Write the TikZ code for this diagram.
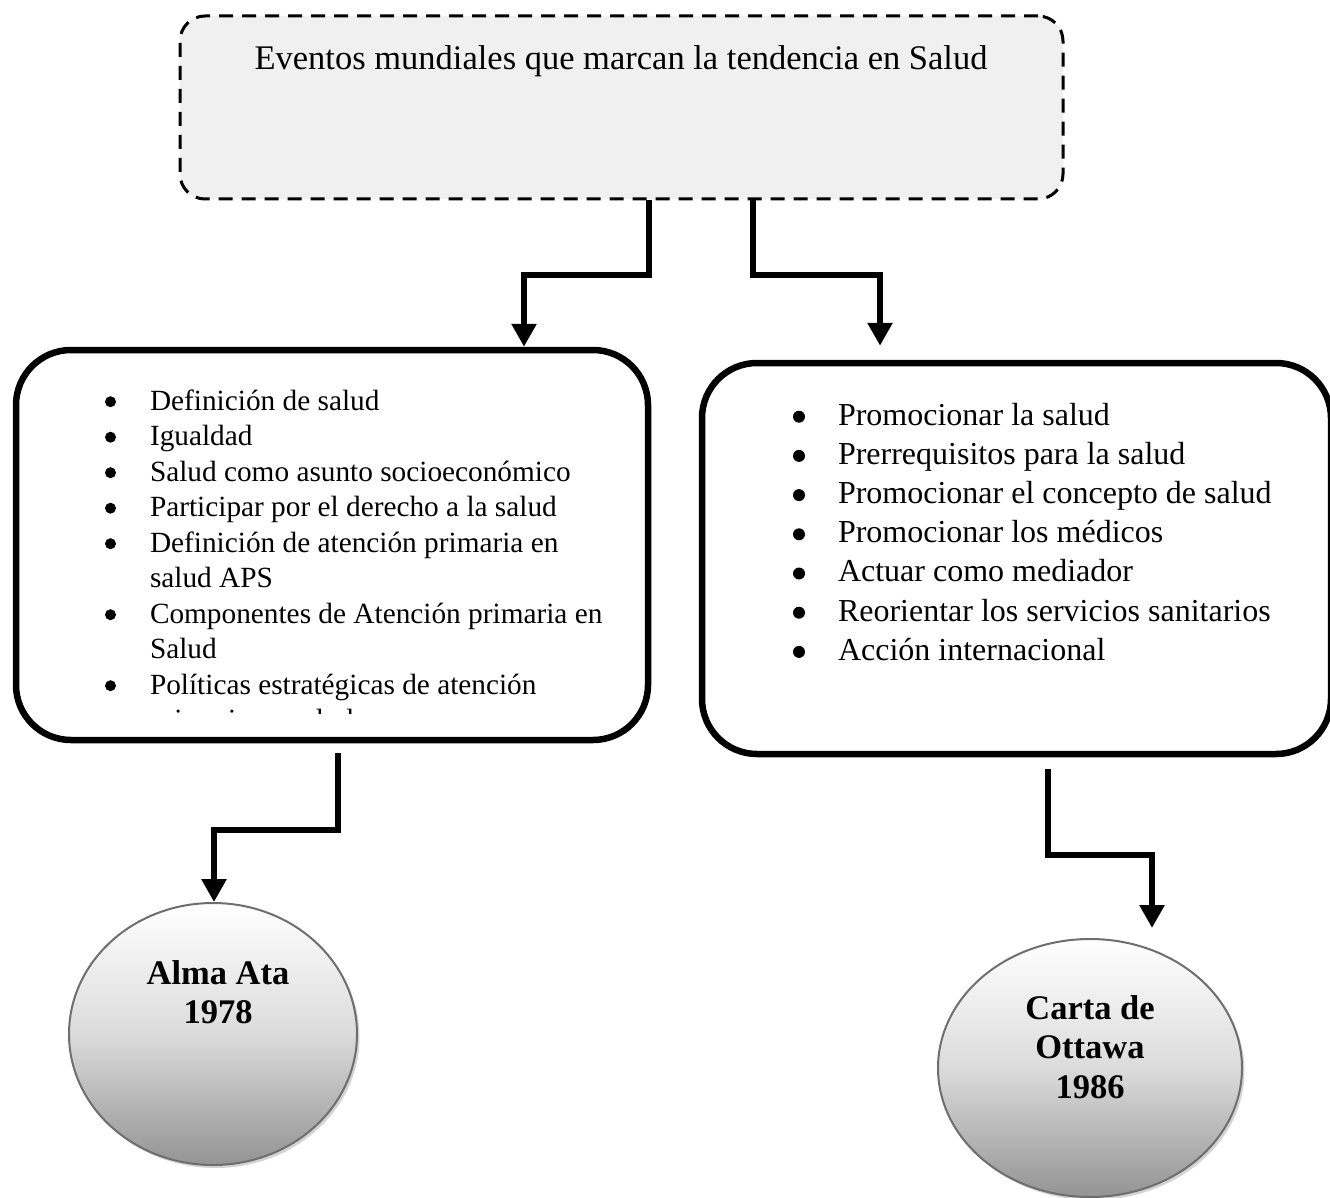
\documentclass[tikz,border=0pt]{standalone}
\usepackage{fontspec}
\setmainfont{Liberation Serif}
\usetikzlibrary{arrows.meta,shapes.geometric,shadows}

% list bullet: a filled dot #1 = radius, in a 54pt wide hanging slot
\newcommand\listdot[1]{\makebox[54pt][l]{\hspace{9pt}\tikz[baseline=0pt]\fill (0pt,8.3pt) circle (#1);}}
\newcommand\itm[2][5.5pt]{\par\noindent\hangindent=54pt\hangafter=1\listdot{#1}#2}

\tikzset{
  headbox/.style={draw, dashed, dash pattern=on 14pt off 9pt, line width=3pt,
    rounded corners=25pt, fill=headfill, inner sep=0pt},
  listbox/.style={draw, line width=6.5pt, rounded corners=55pt, fill=white, inner sep=0pt},
  eventdisc/.style={ellipse, draw=discline, line width=2pt, inner sep=0pt,
    top color=white, bottom color=black!42, middle color=black!14,
    drop shadow={shadow xshift=2.5pt, shadow yshift=-3pt, opacity=0.35}},
  conn/.style={line width=6.5pt, -{Triangle[width=24pt,length=23pt]}},
  txt/.style={inner sep=0pt, outer sep=0pt},
}
\definecolor{headfill}{HTML}{F0F0F0}
\definecolor{discline}{HTML}{6E6E6E}

\begin{document}
\begin{tikzpicture}[x=1pt, y=-1pt]
\useasboundingbox (0,0) rectangle (1330,1198);

% title box
\node[headbox, minimum width=883pt, minimum height=183pt] (head) at (621.5,107.5) {};
\node[txt, anchor=base, font=\fontsize{34.5}{40}\selectfont] (headtxt) at (621,70)
  {Eventos mundiales que marcan la tendencia en Salud};

% Alma Ata list
\node[listbox, minimum width=632pt, minimum height=390pt] (left) at (332,545) {};
\begin{scope}
  \clip (0,0) rectangle (1330,713);
  \node[txt, anchor=base west] (lefttxt) at (96,410) {\parbox[t]{560pt}{\raggedright
    \fontsize{29.3}{35.5}\selectfont
    \itm{Definición de salud}
    \itm{Igualdad}
    \itm{Salud como asunto socioeconómico}
    \itm{Participar por el derecho a la salud}
    \itm{Definición de atención primaria en\break salud APS}
    \itm{Componentes de Atención primaria en\break Salud}
    \itm{Políticas estratégicas de atención\break primaria en salud}}};
\end{scope}

% Ottawa list
\node[listbox, minimum width=629pt, minimum height=391pt] (right) at (1016.5,558.5) {};
\node[txt, anchor=base west] (righttxt) at (784,425) {\parbox[t]{540pt}{\raggedright
    \fontsize{32}{39.2}\selectfont
    \itm[6pt]{Promocionar la salud}
    \itm[6pt]{Prerrequisitos para la salud}
    \itm[6pt]{Promocionar el concepto de salud}
    \itm[6pt]{Promocionar los médicos}
    \itm[6pt]{Actuar como mediador}
    \itm[6pt]{Reorientar los servicios sanitarios}
    \itm[6pt]{Acción internacional}}};

% events
\node[eventdisc, minimum width=288pt, minimum height=262pt] (alma) at (213,1034) {};
\node[txt, anchor=base] (almatxt) at (218,984)
  {\parbox[t]{280pt}{\centering\bfseries\fontsize{34.5}{39}\selectfont Alma Ata\\1978}};

\node[eventdisc, minimum width=304pt, minimum height=258pt] (otta) at (1090,1068) {};
\node[txt, anchor=base] (ottatxt) at (1090,1019)
  {\parbox[t]{290pt}{\centering\bfseries\fontsize{34.5}{39.5}\selectfont Carta de\\Ottawa\\1986}};

% connectors
\draw[conn] (head.south -| 649,0) |- (524,275) -- (left.north -| 524,0);
\draw[conn] (head.south -| 753,0) |- (880,275) -- ([yshift=14pt]right.north -| 880,0);
\draw[conn] ([yshift=-10pt]left.south -| 338,0) |- (214,830) -- (alma.north -| 214,0);
\draw[conn] ([yshift=-12pt]right.south -| 1048,0) |- (1152,855) -- ([yshift=10pt]otta.north -| 1152,0);
\end{tikzpicture}
\end{document}
